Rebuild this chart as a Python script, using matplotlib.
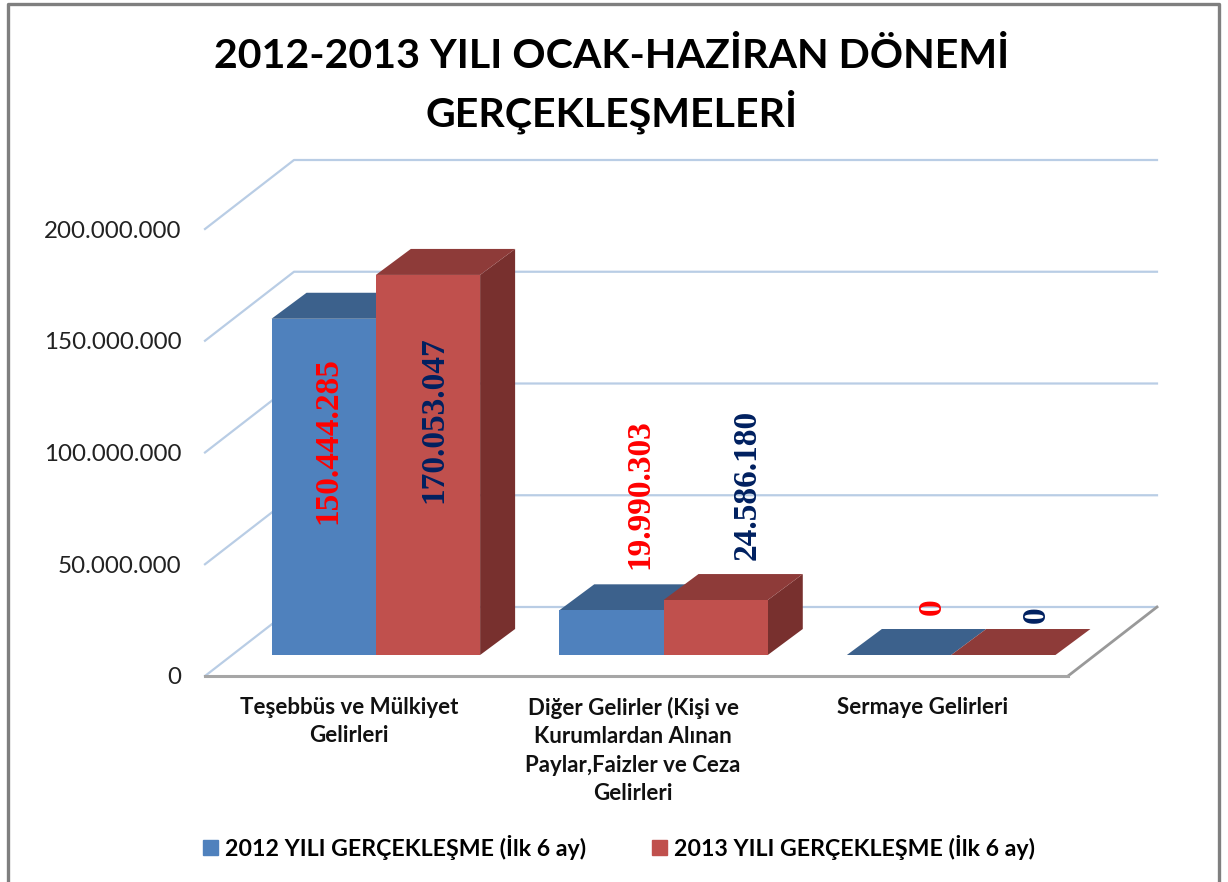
import matplotlib
matplotlib.use('Agg')
import matplotlib.pyplot as plt
from matplotlib.lines import Line2D
from matplotlib.patches import Patch

# DANE
categories = ['Teşebbüs ve Mülkiyet\nGelirleri',
              'Diğer Gelirler (Kişi ve\nKurumlardan Alınan\nPaylar,Faizler ve Ceza\nGelirleri',
              'Sermaye Gelirleri']
values_2012 = [150444285, 19990303, 0]
values_2013 = [170053047, 24586180, 0]
labels_2012 = ['150.444.285', '19.990.303', '0']
labels_2013 = ['170.053.047', '24.586.180', '0']
yticks = [0, 50000000, 100000000, 150000000, 200000000]
ytick_labels = ['0', '50.000.000', '100.000.000', '150.000.000', '200.000.000']
series_names = ['2012 YILI GERÇEKLEŞME (İlk 6 ay)', '2013 YILI GERÇEKLEŞME (İlk 6 ay)']
title = '2012-2013 YILI OCAK-HAZİRAN DÖNEMİ\nGERÇEKLEŞMELERİ'

W, H = 1228, 882
plt.rcParams['font.family'] = ['Lato', 'DejaVu Sans']

fig = plt.figure(figsize=(W / 100, H / 100), dpi=100)
# osie = przednia krawedz podlogi wykresu 3D
left, right, top, bottom = 205, 1068, 229, 676
ax = fig.add_axes([left / W, 1 - bottom / H, (right - left) / W, (bottom - top) / H])
ax.set_xlim(0, 3)
ax.set_ylim(0, 200000000)

px_x = 3 / (right - left)  # jednostki danych na piksel
px_y = 200000000 / (bottom - top)

wall_dx, wall_dy = 89, 69  # glebokosc calej sciany
bar_dx, bar_dy = 35, 26    # glebokosc slupka
gap_dx, gap_dy = 27, 21    # odsuniecie slupka od przedniej krawedzi
bar_w = 0.3625

grid_c = '#B9CDE5'
for t in yticks:
    ax.plot([0, wall_dx * px_x, 3 + wall_dx * px_x],
            [t, t + wall_dy * px_y, t + wall_dy * px_y],
            color=grid_c, lw=1.6, clip_on=False, zorder=1)
ax.plot([3, 3 + wall_dx * px_x], [0, wall_dy * px_y], color='#999999', lw=2, clip_on=False, zorder=1.5)


def bar3d(x0, val, front, side, roof):
    x1 = x0 + bar_w
    y0 = gap_dy * px_y
    y1 = y0 + val
    dx = bar_dx * px_x
    dy = bar_dy * px_y
    ax.fill([x1, x1 + dx, x1 + dx, x1], [y0, y0 + dy, y1 + dy, y1], color=side, lw=0, clip_on=False, zorder=3)
    ax.fill([x0, x1, x1 + dx, x0 + dx], [y1, y1, y1 + dy, y1 + dy], color=roof, lw=0, clip_on=False, zorder=3)
    if val > 0:
        ax.fill([x0, x1, x1, x0], [y0, y0, y1, y1], color=front, lw=0, clip_on=False, zorder=3)


blue = '#4F81BD'
red = '#C0504D'
for i in range(3):
    c = i + 0.5 + gap_dx * px_x
    bar3d(c - bar_w, values_2012[i], blue, '#2F4D71', '#3C618C')
    bar3d(c, values_2013[i], red, '#78302E', '#8E3B39')

# etykiety wartosci, przesuniecia w pikselach od gornej krawedzi slupka
shift_2012 = [(4, -122), (29, 116), (33, 48)]
shift_2013 = [(6, -145), (31, 115), (33, 40)]
for i in range(3):
    c = i + 0.5 + gap_dx * px_x
    for x, v, s, lab, col in [(c - bar_w / 2, values_2012[i], shift_2012[i], labels_2012[i], '#FF0000'),
                              (c + bar_w / 2, values_2013[i], shift_2013[i], labels_2013[i], '#002060')]:
        y = v + gap_dy * px_y + s[1] * px_y
        ax.text(x + s[0] * px_x, y, lab, rotation=90, ha='center', va='center', color=col,
                family='Liberation Serif', weight='bold', fontsize=24, zorder=5, clip_on=False)

for s in ['top', 'left', 'right']:
    ax.spines[s].set_visible(False)
ax.spines['bottom'].set_color('#A6A6A6')
ax.spines['bottom'].set_linewidth(2.2)
ax.set_xticks([0.5, 1.488, 2.495])
ax.set_xticklabels(categories, fontsize=16, weight='bold', linespacing=1.43, color='#111111')
ax.set_yticks(yticks)
ax.set_yticklabels(ytick_labels, fontsize=17.4, color='#222222')
ax.tick_params(axis='x', length=0, pad=15)
ax.tick_params(axis='y', length=0, pad=17)
ax.patch.set_alpha(0)

fig.text(612 / W, 1 - 86 / H, title, ha='center', va='center', fontsize=29.6, weight='bold',
         color='black', linespacing=1.38)

handles = [Patch(color=blue, label=series_names[0]), Patch(color=red, label=series_names[1])]
fig.legend(handles=handles, loc='center', bbox_to_anchor=(619 / W, 1 - 847 / H), ncol=2, frameon=False,
           prop={'size': 16.7, 'weight': 'bold', 'family': 'Lato'}, handlelength=0.64, handleheight=0.64,
           handletextpad=0.3, columnspacing=2.83)

# ramka
fc = '#7F7F7F'
fig.add_artist(Line2D([8 / W, 8 / W, 1219 / W, 1219 / W], [0, 1 - 4 / H, 1 - 4 / H, 0], color=fc, lw=2.4))

fig.savefig('out.png', dpi=100)
